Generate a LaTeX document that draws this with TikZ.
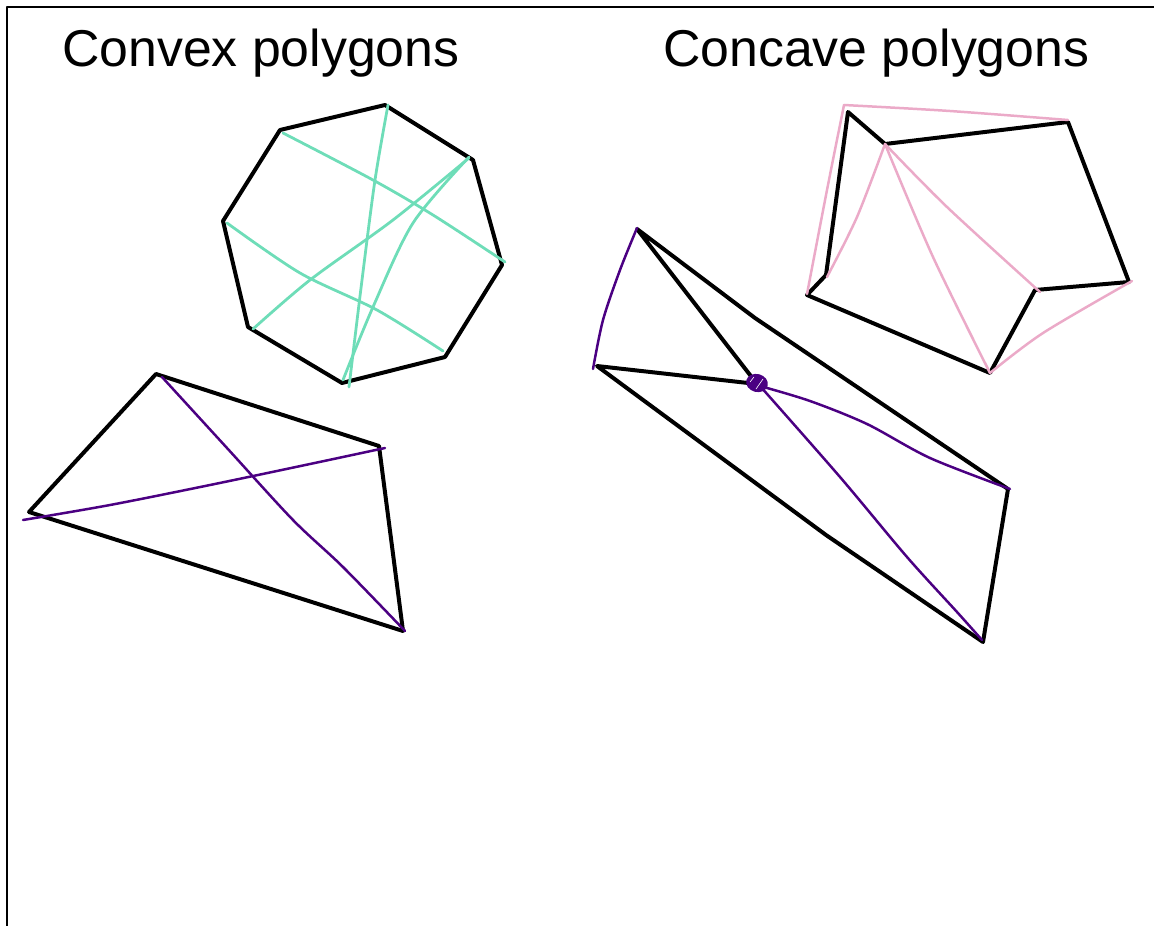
\documentclass[tikz,border=0pt]{standalone}
\usepackage{fontspec}
\setmainfont{Liberation Sans}
\usetikzlibrary{calc}

\begin{document}
\begin{tikzpicture}[x=1bp, y=-1bp, line join=round, line cap=round]
%
\useasboundingbox (0,0) rectangle (1154,926);
% Cadre
\draw[color=black,line width=2.4] (7,926) -- (7,7) -- (1154,7);
% Titres
\node[color=black,anchor=base west,inner sep=0,font=\fontsize{52}{60}\selectfont] (convexe) at (62,66) {Convex polygons};
\node[color=black,anchor=base west,inner sep=0,font=\fontsize{52}{60}\selectfont] (concave) at (663,66) {Concave polygons};
% Polygone 1 (octogone)
\draw[color=black,line width=4] (385,105) -- (473,160) -- (502,265) -- (445,357) -- (342,383) -- (248,327) -- (223,221) -- (280,130) -- cycle;
% Diagonales 1
\draw[color={rgb,255:red,110; green,221; blue,184},line width=2.8] plot[smooth,tension=0.5] coordinates{(388,105) (375,180) (362,280) (349,387)};
\draw[color={rgb,255:red,110; green,221; blue,184},line width=2.8] plot[smooth,tension=0.5] coordinates{(469,157) (413,223) (373,307) (343,380)};
\draw[color={rgb,255:red,110; green,221; blue,184},line width=2.8] plot[smooth,tension=0.5] coordinates{(469,158) (393,220) (310,280) (253,329)};
\draw[color={rgb,255:red,110; green,221; blue,184},line width=2.8] plot[smooth,tension=0.5] coordinates{(283,133) (373,180) (433,215) (505,262)};
\draw[color={rgb,255:red,110; green,221; blue,184},line width=2.8] plot[smooth,tension=0.5] coordinates{(227,223) (300,273) (377,310) (443,351)};
% Polygone 2 (quadrilatere)
\draw[color=black,line width=4] (156,374) -- (379,446) -- (403,631) -- (29,512) -- cycle;
% Diagonales 2
\draw[color={rgb,255:red,75; green,0; blue,130},line width=2.5] plot[smooth,tension=0.5] coordinates{(23,520) (110,505) (210,485) (310,464) (385,448)};
\draw[color={rgb,255:red,75; green,0; blue,130},line width=2.5] plot[smooth,tension=0.5] coordinates{(162,377) (227,448) (293,520) (343,567) (405,631)};
% Polygone 3 (fleche)
\draw[color=black,line width=4] (637,229) -- (755,318) -- (1008,489) -- (983,642) -- (826,535) -- (597,366) -- (757,384) -- cycle;
% Diagonales 3
\draw[color={rgb,255:red,75; green,0; blue,130},line width=2.5] plot[smooth,tension=0.5] coordinates{(637,228) (620,270) (603,320) (593,369)};
\draw[color={rgb,255:red,75; green,0; blue,130},line width=2.5] plot[smooth,tension=0.5] coordinates{(760,386) (810,401) (867,424) (930,458) (1010,489)};
\draw[color={rgb,255:red,75; green,0; blue,130},line width=2.5] plot[smooth,tension=0.5] coordinates{(760,386) (840,477) (907,557) (957,612) (982,640)};
% Point P
\fill[color={rgb,255:red,75; green,0; blue,130},rotate around={-15:(757,383)}] (757,383) ellipse [x radius=11, y radius=9];
\draw[color=white,line width=0.6] (750,382) -- (754,377) (756,389) -- (763,379);
% Polygone 4 (pentagone creux)
\draw[color=black,line width=4] (848,112) -- (885,144) -- (1068,122) -- (1129,282) -- (1035,290) -- (990,373) -- (807,295) -- (826,275) -- cycle;
% Diagonales 4
\draw[color={rgb,255:red,235; green,170; blue,200},line width=2.5] plot[smooth,tension=0.5] coordinates{(844,105) (950,111) (1068,120)};
\draw[color={rgb,255:red,235; green,170; blue,200},line width=2.5] plot[smooth,tension=0.5] coordinates{(844,105) (827,190) (807,294)};
\draw[color={rgb,255:red,235; green,170; blue,200},line width=2.5] plot[smooth,tension=0.5] coordinates{(885,144) (857,217) (827,277)};
\draw[color={rgb,255:red,235; green,170; blue,200},line width=2.5] plot[smooth,tension=0.5] coordinates{(885,144) (933,257) (990,373)};
\draw[color={rgb,255:red,235; green,170; blue,200},line width=2.5] plot[smooth,tension=0.5] coordinates{(885,144) (947,207) (1040,292)};
\draw[color={rgb,255:red,235; green,170; blue,200},line width=2.5] plot[smooth,tension=0.5] coordinates{(1132,281) (1043,333) (990,373)};
\end{tikzpicture}
\end{document}
